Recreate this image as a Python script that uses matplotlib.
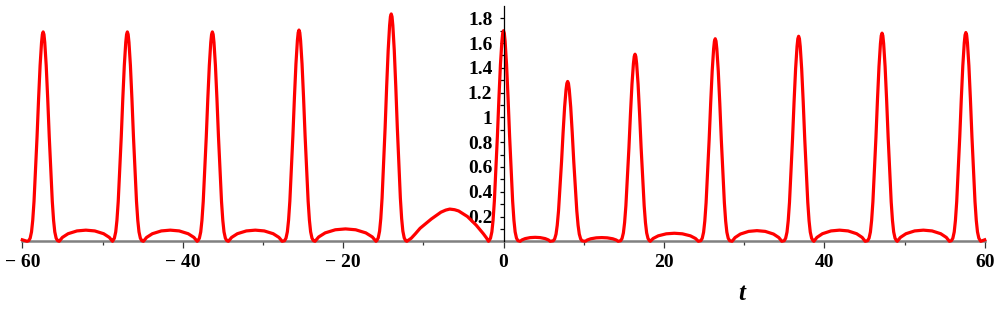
import matplotlib.pyplot as plt
from matplotlib.ticker import FixedLocator

# peak centres / heights
peak_t = [-57.4, -46.9, -36.3, -25.5, -14.0, 0.0, 8.0, 16.4, 26.4, 36.8, 47.2, 57.65]
peak_h = [1.69, 1.69, 1.69, 1.705, 1.835, 1.70, 1.29, 1.51, 1.635, 1.655, 1.68, 1.685]

# zeros of the curve (two per peak, left and right)
min_t = [-59.4, -55.4, -48.75, -44.9, -38.2, -34.3, -27.6, -23.5, -15.9, -12.05,
         -1.87, 2.08, 5.82, 10.2, 14.3, 18.3, 24.3, 28.5, 34.7, 38.7,
         45.1, 49.1, 55.6, 59.5]

# small humps between peaks (None = the big one, given point by point)
bump_h = [0.09, 0.09, 0.09, 0.10, None, 0.032, 0.03, 0.065, 0.086, 0.09, 0.09]
big_bump_t = [-11.5, -11.0, -10.4, -9.0, -7.8, -7.2, -6.7, -6.1, -5.6, -4.5, -3.4, -2.5, -2.1]
big_bump_y = [0.025, 0.06, 0.105, 0.18, 0.235, 0.252, 0.26, 0.255, 0.245, 0.20, 0.13, 0.06, 0.025]

# peak profile (distance from centre, fraction of height) and hump profile
prof_off = [0.0, 0.1, 0.2, 0.38, 0.57, 0.76, 0.95, 1.14, 1.3, 1.45, 1.62, 1.8]
prof_frac = [1.0, 0.988, 0.95, 0.84, 0.68, 0.50, 0.34, 0.19, 0.10, 0.045, 0.015, 0.003]
hump_pos = [0.06, 1/6, 2/6, 3/6, 4/6, 5/6, 0.94]
hump_frac = [0.35, 0.68, 0.93, 1.0, 0.93, 0.68, 0.35]

end_y = 0.012

t = [-60.0]
y = [end_y]
for k in range(len(peak_t)):
    pc, ph = peak_t[k], peak_h[k]
    t.append(min_t[2*k]); y.append(0.0)
    for off, fr in zip(prof_off[::-1], prof_frac[::-1]):
        if pc - off > min_t[2*k]:
            t.append(pc - off); y.append(ph * fr)
    for off, fr in zip(prof_off[1:], prof_frac[1:]):
        if pc + off < min_t[2*k+1]:
            t.append(pc + off); y.append(ph * fr)
    t.append(min_t[2*k+1]); y.append(0.0)
    if k < len(bump_h):
        if bump_h[k] is None:
            t += big_bump_t
            y += big_bump_y
        else:
            a, b = min_t[2*k+1], min_t[2*k+2]
            for p, fr in zip(hump_pos, hump_frac):
                t.append(a + p * (b - a)); y.append(bump_h[k] * fr)
t.append(60.0)
y.append(end_y)

xticks = [-60, -40, -20, 0, 20, 40, 60]
xlabels = ['\u2212 60', '\u2212 40', '\u2212 20', '0', '20', '40', '60']
yticks = [0.2, 0.4, 0.6, 0.8, 1.0, 1.2, 1.4, 1.6, 1.8]
ylabels = ['0.2', '0.4', '0.6', '0.8', '1', '1.2', '1.4', '1.6', '1.8']

fig = plt.figure(figsize=(10, 3.09), dpi=100)
ax = fig.add_axes([0.0223, 0.2191, 0.9624, 0.7618])
ax.set_xlim(-60, 60)
ax.set_ylim(0, 1.9)

ax.plot(t, y, color='#ff0000', lw=2.3, clip_on=False, zorder=3,
        solid_joinstyle='round')

for s in ['top', 'right']:
    ax.spines[s].set_visible(False)
ax.spines['left'].set_position(('data', 0))
ax.spines['bottom'].set_position(('data', 0))
ax.spines['left'].set_color('black')
ax.spines['left'].set_linewidth(0.9)
ax.spines['left'].set_zorder(4)
ax.spines['bottom'].set_color('#808080')
ax.spines['bottom'].set_linewidth(1.8)
ax.spines['bottom'].set_zorder(2)

ax.xaxis.set_major_locator(FixedLocator(xticks))
ax.xaxis.set_minor_locator(FixedLocator([-50, -30, -10, 10, 30, 50]))
ax.set_xticklabels(xlabels)
ax.yaxis.set_major_locator(FixedLocator(yticks))
ax.yaxis.set_minor_locator(FixedLocator([0.1, 0.3, 0.5, 0.7, 0.9, 1.1, 1.3, 1.5, 1.7]))
ax.set_yticklabels(ylabels)

ax.tick_params(axis='x', which='major', direction='out', length=5, width=0.9,
               color='#333333', pad=4)
ax.tick_params(axis='x', which='minor', direction='out', length=3, width=0.9,
               color='#333333')
ax.tick_params(axis='y', which='major', direction='out', length=3, width=0.9,
               color='black', pad=5)
ax.tick_params(axis='y', which='minor', direction='out', length=3, width=0.9,
               color='black')

for lab in ax.get_xticklabels() + ax.get_yticklabels():
    lab.set_fontfamily('Liberation Serif')
    lab.set_fontweight('bold')
    lab.set_fontsize(14)

fig.text(0.7417, 1 - 293 / 309, 't', family='Liberation Serif', weight='bold',
         style='italic', fontsize=18, ha='center', va='center')

fig.savefig('out.png', dpi=100)
